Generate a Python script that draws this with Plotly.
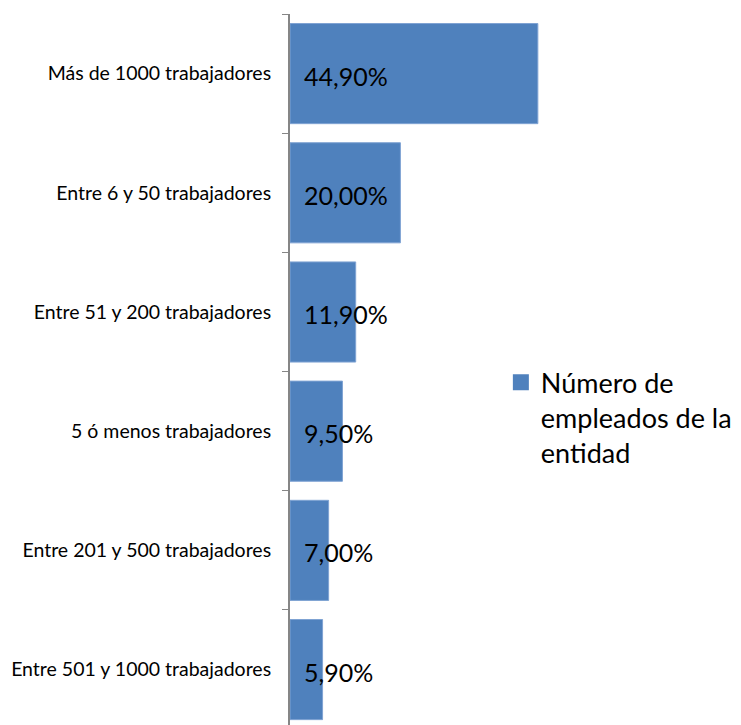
import plotly.graph_objects as go

categories = ["Más de 1000 trabajadores", "Entre 6 y 50 trabajadores", "Entre 51 y 200 trabajadores",
              "5 ó menos trabajadores", "Entre 201 y 500 trabajadores", "Entre 501 y 1000 trabajadores"]
values = [44.9, 20.0, 11.9, 9.5, 7.0, 5.9]
labels = ["44,90%", "20,00%", "11,90%", "9,50%", "7,00%", "5,90%"]
series_name = "Número de<br>empleados de la<br>entidad"

color = "#4F81BD"
fig = go.Figure()
fig.add_trace(go.Bar(
    y=categories, x=values, orientation="h", name=series_name,
    marker=dict(color=color, line=dict(color="#7FA3D3", width=1)),
    width=0.84, showlegend=False,
))
# legend proxy with a larger square symbol
fig.add_trace(go.Scatter(
    x=[None], y=[None], mode="markers", name=series_name,
    marker=dict(symbol="square", size=16, color=color), showlegend=True,
))

for cat, lab in zip(categories, labels):
    fig.add_annotation(x=0, y=cat, text=lab, showarrow=False, xanchor="left",
                       xshift=12, yshift=-2,
                       font=dict(family="Lato", size=25, color="#000000"))

fig.update_layout(
    width=733, height=717,
    margin=dict(l=282, r=175, t=6, b=0),
    plot_bgcolor="white", paper_bgcolor="white",
    font=dict(family="Lato", color="#000000"),
    showlegend=True,
    legend=dict(x=0.764, y=0.516, xanchor="left", yanchor="top", valign="top",
                font=dict(family="Lato", size=27, color="#000000"),
                bgcolor="rgba(0,0,0,0)", itemsizing="trace"),
    xaxis=dict(range=[0, 50], visible=False),
    yaxis=dict(
        categoryorder="array", categoryarray=categories,
        range=[5.465, -0.5], showline=True, linecolor="#868686", linewidth=2,
        ticks="outside", ticklen=6, tickcolor="#868686", tickson="boundaries",
        tickfont=dict(family="Lato", size=19.5, color="#000000"),
        ticklabelstandoff=13, showgrid=False, zeroline=False, automargin=False,
    ),
)
fig.write_html("out.html")
